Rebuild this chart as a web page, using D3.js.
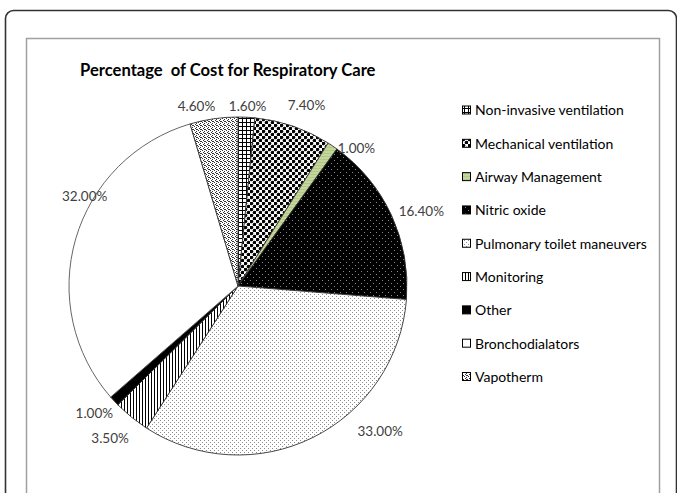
<!DOCTYPE html>
<html>
<head>
<meta charset="utf-8">
<script src="https://cdn.jsdelivr.net/npm/d3@7"></script>
<style>
  body { margin: 0; background: #fff; }
  text { font-family: Lato, "Open Sans", sans-serif; }
</style>
</head>
<body>
<div id="chart"></div>
<script>
// Chart data
const categories = ["Non-invasive ventilation", "Mechanical ventilation", "Airway Management",
    "Nitric oxide", "Pulmonary toilet maneuvers", "Monitoring", "Other",
    "Bronchodialators", "Vapotherm"];
const values = [1.6, 7.4, 1.0, 16.4, 33.0, 3.5, 1.0, 32.0, 4.6];
const valueLabels = ["1.60%", "7.40%", "1.00%", "16.40%", "33.00%", "3.50%", "1.00%", "32.00%", "4.60%"];

// Fill for each slice (pattern ids defined below)
const fills = ["url(#p-grid)", "url(#p-checker)", "url(#p-green)", "url(#p-darkdot)",
    "url(#p-lightdot)", "url(#p-vert)", "#000", "#fff", "url(#p-confetti)"];

// label nudges (px) from the radial position, to mimic Excel's placement
const labelNudge = [[0, 12], [6, 1], [11, 21], [9, 6], [57, -27], [-7, 3], [-3, -3], [31, -36], [-14, 10]];

const width = 677, height = 493;
const radius = 169;
const cx = 238, cy = 286;

const svg = d3.select("#chart")
    .append("svg")
    .attr("width", width)
    .attr("height", height);

// Patterns
const defs = svg.append("defs");

function pattern(id, w, h, bg) {
    const p = defs.append("pattern")
        .attr("id", id)
        .attr("patternUnits", "userSpaceOnUse")
        .attr("width", w)
        .attr("height", h);
    p.append("rect").attr("width", w).attr("height", h).attr("fill", bg);
    return p;
}

let p = pattern("p-grid", 4, 4, "#fff");
p.append("path").attr("d", "M0,0.5H4M0.5,0V4").attr("stroke", "#000").attr("stroke-width", 1);

p = pattern("p-checker", 6, 6, "#fff");
p.append("circle").attr("cx", 1.5).attr("cy", 1.5).attr("r", 1.8).attr("fill", "#000");
p.append("circle").attr("cx", 4.5).attr("cy", 4.5).attr("r", 1.8).attr("fill", "#000");

p = pattern("p-green", 3, 3, "#c4d79b");
p.append("rect").attr("y", 2).attr("width", 3).attr("height", 1).attr("fill", "#b3c68a");

p = pattern("p-darkdot", 6, 6, "#000");
p.append("rect").attr("x", 0).attr("y", 0).attr("width", 1).attr("height", 1).attr("fill", "#888");
p.append("rect").attr("x", 3).attr("y", 3).attr("width", 1).attr("height", 1).attr("fill", "#888");

p = pattern("p-lightdot", 4, 4, "#fff");
p.append("rect").attr("x", 0).attr("y", 0).attr("width", 1).attr("height", 1).attr("fill", "#8a8a8a");
p.append("rect").attr("x", 2).attr("y", 2).attr("width", 1).attr("height", 1).attr("fill", "#8a8a8a");

p = pattern("p-vert", 3, 3, "#fff");
p.append("rect").attr("x", 0).attr("width", 1).attr("height", 3).attr("fill", "#000");

p = pattern("p-confetti", 4, 4, "#fff");
[[0, 0], [2, 1], [1, 2], [3, 3], [2, 3]].forEach(d => {
    p.append("rect").attr("x", d[0]).attr("y", d[1]).attr("width", 1).attr("height", 1).attr("fill", "#333");
});

// Frames
svg.append("rect")
    .attr("x", 5.5).attr("y", 10.5)
    .attr("width", 671).attr("height", 520)
    .attr("rx", 8)
    .attr("fill", "none")
    .attr("stroke", "#333")
    .attr("stroke-width", 1.6);

svg.append("rect")
    .attr("x", 26.5).attr("y", 38.5)
    .attr("width", 633).attr("height", 500)
    .attr("fill", "#fff")
    .attr("stroke", "#a0a0a0")
    .attr("stroke-width", 1.5);

// Title
svg.append("text")
    .attr("x", 80)
    .attr("y", 76)
    .attr("font-size", 16.6)
    .attr("font-weight", "bold")
    .attr("fill", "#000")
    .text("Percentage  of Cost for Respiratory Care")
    .style("white-space", "pre");

// Pie
const pie = d3.pie().sort(null).value(d => d);
const arcs = pie(values);
const arc = d3.arc().innerRadius(0).outerRadius(radius);
const labelArc = d3.arc().innerRadius(192).outerRadius(192);

const g = svg.append("g").attr("transform", `translate(${cx},${cy})`);

g.selectAll(".slice")
    .data(arcs)
    .enter().append("path")
    .attr("class", "slice")
    .attr("d", arc)
    .attr("fill", (d, i) => fills[i])
    .attr("stroke", (d, i) => fills[i] === "#fff" ? "#555" : "#333")
    .attr("stroke-width", 0.9);

g.selectAll(".label")
    .data(arcs)
    .enter().append("text")
    .attr("class", "label")
    .attr("transform", (d, i) => {
        const c = labelArc.centroid(d);
        return `translate(${c[0] + labelNudge[i][0]},${c[1] + labelNudge[i][1]})`;
    })
    .attr("text-anchor", "middle")
    .attr("dy", "0.35em")
    .attr("font-size", 13.5)
    .attr("fill", "#404040")
    .text((d, i) => valueLabels[i]);

// Legend
const legendY = d3.scalePoint()
    .domain(categories)
    .range([110.5, 377]);

const legend = svg.append("g");

legend.selectAll(".swatch")
    .data(categories)
    .enter().append("rect")
    .attr("class", "swatch")
    .attr("x", 462.5)
    .attr("y", d => legendY(d) - 4.5)
    .attr("width", 8)
    .attr("height", 8)
    .attr("fill", (d, i) => fills[i])
    .attr("stroke", "#000")
    .attr("stroke-width", 1);

legend.selectAll(".ltext")
    .data(categories)
    .enter().append("text")
    .attr("class", "ltext")
    .attr("x", 475)
    .attr("y", d => legendY(d))
    .attr("dy", "0.35em")
    .attr("font-size", 14)
    .attr("fill", "#000")
    .text(d => d);
</script>
</body>
</html>
